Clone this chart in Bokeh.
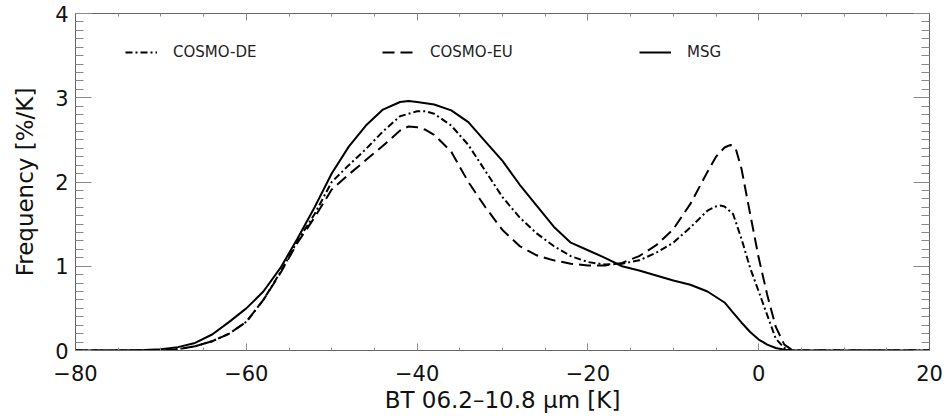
import numpy as np
from bokeh.plotting import figure
from bokeh.models import (Range1d, LinearAxis, FixedTicker, Legend, LegendItem,
                          CustomLabelingPolicy)
from bokeh.embed import file_html
from bokeh.resources import INLINE

# ---- data ----
x_msg = [-80, -75, -72, -70, -68, -66, -64, -62, -60, -58, -56, -54, -52, -50, -48, -46,
         -44, -42, -41, -40, -38, -36, -34, -32, -30, -28, -26, -24, -22, -20, -18, -16,
         -14, -12, -10, -8, -6, -4, -3, -2, -1, 0, 1, 2, 3, 4, 6, 10, 20]
y_msg = [0, 0, 0.005, 0.015, 0.04, 0.09, 0.19, 0.34, 0.50, 0.70, 0.98, 1.33, 1.70, 2.10, 2.42, 2.67,
         2.86, 2.95, 2.96, 2.95, 2.92, 2.85, 2.71, 2.48, 2.25, 1.97, 1.72, 1.47, 1.28, 1.19, 1.10, 1.00,
         0.95, 0.89, 0.83, 0.78, 0.70, 0.57, 0.45, 0.33, 0.22, 0.13, 0.07, 0.03, 0.01, 0, 0, 0, 0]

x_eu = [-80, -72, -70, -68, -66, -64, -62, -60, -58, -56, -54, -52, -50, -48, -46, -44, -42,
        -41, -40, -39, -38, -36, -34, -32, -30, -28, -26, -24, -22, -20, -18, -16, -14, -12,
        -10, -8, -6, -5, -4, -3.3, -2.7, -2, -1, 0, 1, 2, 3, 4, 6, 20]
y_eu = [0, 0, 0.003, 0.015, 0.05, 0.11, 0.20, 0.34, 0.60, 0.92, 1.28, 1.58, 1.91, 2.09, 2.26, 2.43, 2.61,
        2.66, 2.65, 2.62, 2.56, 2.36, 2.00, 1.70, 1.43, 1.24, 1.13, 1.07, 1.03, 1.01, 1.01, 1.04, 1.12, 1.25,
        1.44, 1.74, 2.12, 2.30, 2.41, 2.44, 2.40, 2.15, 1.62, 1.10, 0.66, 0.28, 0.07, 0, 0, 0]

x_de = [-80, -72, -70, -68, -66, -64, -62, -60, -58, -56, -54, -52, -50, -48, -46, -44, -42,
        -40, -39, -38, -36, -34, -32, -30, -28, -26, -24, -22, -20, -18, -16, -14, -12, -10,
        -8, -6, -5, -4.5, -4, -3, -2, -1, 0, 1, 2, 3, 4, 6, 20]
y_de = [0, 0, 0.003, 0.015, 0.05, 0.11, 0.20, 0.34, 0.60, 0.93, 1.30, 1.62, 2.00, 2.20, 2.39, 2.60, 2.78,
        2.84, 2.84, 2.81, 2.67, 2.44, 2.13, 1.82, 1.58, 1.39, 1.24, 1.12, 1.05, 1.02, 1.03, 1.07, 1.16, 1.28,
        1.46, 1.66, 1.71, 1.72, 1.71, 1.62, 1.32, 0.98, 0.70, 0.42, 0.14, 0.03, 0, 0, 0]

series_names = ["COSMO-DE", "COSMO-EU", "MSG"]
x_ticks = [-80, -60, -40, -20, 0, 20]
x_tick_labels = ["\u221280", "\u221260", "\u221240", "\u221220", "0", "20"]
y_ticks = [0, 1, 2, 3, 4]
y_tick_labels = ["0", "1", "2", "3", "4"]
x_title = "BT 06.2\u201310.8 \u00b5m [K]"
y_title = "Frequency [%/K]"

FONT = "DejaVu Sans"
AX_COL = "#666666"
TICK_COL = "#8a8a8a"

p = figure(width=944, height=419, x_range=Range1d(-80, 20), y_range=Range1d(0, 4),
           output_backend="svg", toolbar_location=None,
           min_border_left=75, min_border_right=15, min_border_top=13, min_border_bottom=69)
p.xgrid.visible = False
p.ygrid.visible = False
p.outline_line_color = AX_COL
p.background_fill_color = "white"
p.border_fill_color = "white"

x_minor = list(np.arange(-80, 20.1, 5))
y_minor = list(np.round(np.arange(0, 4.001, 0.1), 2))

xa = p.xaxis[0]
xa.ticker = FixedTicker(ticks=x_ticks, minor_ticks=x_minor)
xa.major_label_overrides = dict(zip(x_ticks, x_tick_labels))
xa.axis_label = x_title
ya = p.yaxis[0]
ya.ticker = FixedTicker(ticks=y_ticks, minor_ticks=y_minor)
ya.major_label_overrides = dict(zip(y_ticks, y_tick_labels))
ya.axis_label = y_title

for ax, mj, mn in ((xa, 7, 3), (ya, 16, 8)):
    ax.axis_line_color = AX_COL
    ax.major_tick_line_color = TICK_COL
    ax.minor_tick_line_color = TICK_COL
    ax.major_tick_in = mj
    ax.major_tick_out = 0
    ax.minor_tick_in = mn
    ax.minor_tick_out = 0
    ax.major_label_text_font = FONT
    ax.major_label_text_font_size = "21px"
    ax.major_label_text_color = "#111111"
    ax.axis_label_text_font = FONT
    ax.axis_label_text_font_style = "normal"
    ax.axis_label_text_color = "#111111"

xa.axis_label_text_font_size = "23px"
ya.axis_label_text_font_size = "23px"
xa.major_label_standoff = 14
xa.axis_label_standoff = 3
ya.major_label_standoff = 7
ya.axis_label_standoff = 14

no_labels = CustomLabelingPolicy(code="""
for (let i = 0; i < indices.size; i++) { indices.unset(i) }
return indices
""")

top = LinearAxis(ticker=FixedTicker(ticks=x_ticks, minor_ticks=x_minor))
right = LinearAxis(ticker=FixedTicker(ticks=y_ticks, minor_ticks=y_minor))
for ax, mj, mn in ((top, 7, 3), (right, 16, 8)):
    ax.axis_line_color = AX_COL
    ax.major_tick_line_color = TICK_COL
    ax.minor_tick_line_color = TICK_COL
    ax.major_tick_in = mj
    ax.major_tick_out = 0
    ax.minor_tick_in = mn
    ax.minor_tick_out = 0
    ax.major_label_policy = no_labels
    ax.major_label_text_font_size = "10px"
    ax.major_label_standoff = 0
p.add_layout(top, "above")
p.add_layout(right, "right")

r_de = p.line(x_de, y_de, line_color="black", line_width=2, line_dash="7 3 2 3")
r_eu = p.line(x_eu, y_eu, line_color="black", line_width=2, line_dash="12 6")
r_msg = p.line(x_msg, y_msg, line_color="black", line_width=2)

legend = Legend(items=[LegendItem(label=series_names[0], renderers=[r_de]),
                       LegendItem(label=series_names[1], renderers=[r_eu]),
                       LegendItem(label=series_names[2], renderers=[r_msg])],
                orientation="horizontal", location=(50, 288))
legend.border_line_color = None
legend.background_fill_alpha = 0
legend.padding = 0
legend.margin = 0
legend.spacing = 109
legend.glyph_width = 32
legend.glyph_height = 20
legend.label_width = 100
legend.label_height = 20
legend.label_standoff = 16
legend.label_text_font = FONT
legend.label_text_font_size = "15px"
legend.label_text_color = "#222222"
p.add_layout(legend)

open("out.html", "w").write(file_html(p, INLINE))
